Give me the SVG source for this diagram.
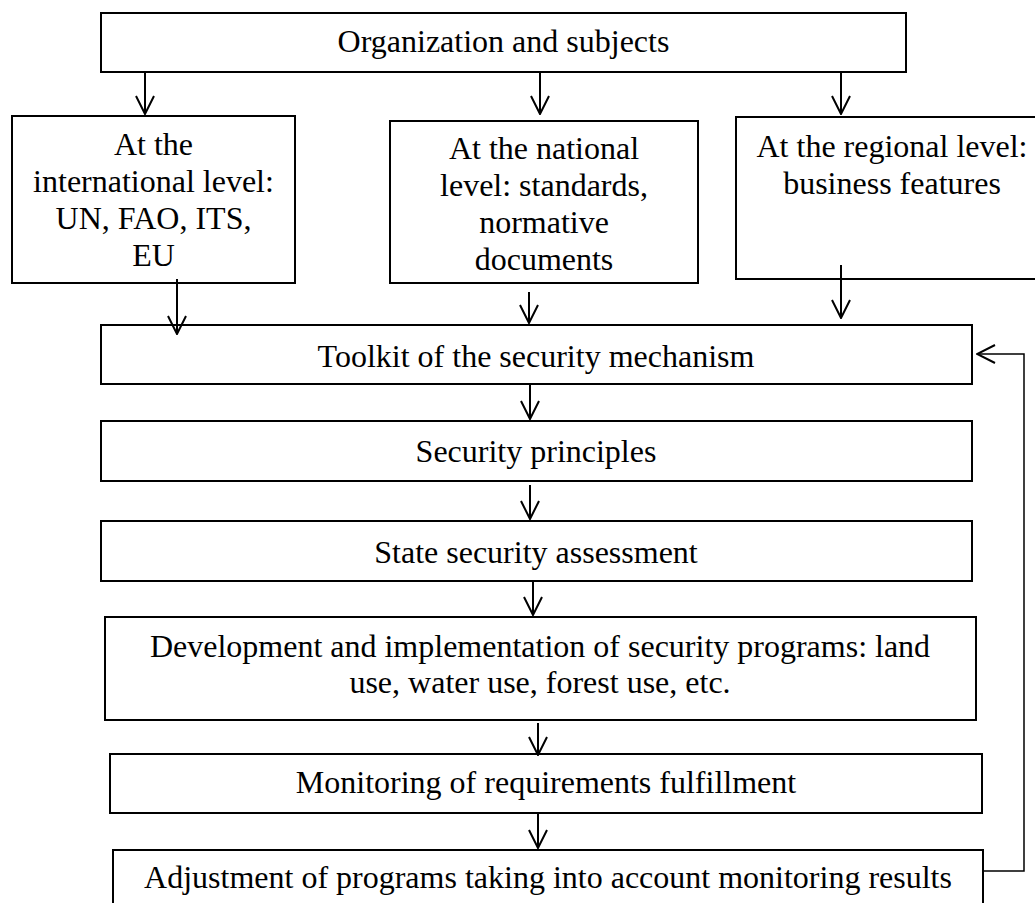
<svg xmlns="http://www.w3.org/2000/svg" width="1035" height="903" viewBox="0 0 1035 903">
<style>
.box{fill:#fff;stroke:#000;stroke-width:2}
.t{font-family:"Liberation Serif","Times New Roman",serif;font-size:32px;fill:#000;text-anchor:middle}
.c{fill:none;stroke:#000;stroke-width:2}
.fb{fill:none;stroke:#000;stroke-width:1.5}
</style>
<defs>
<marker id="arr" viewBox="0 0 20 22" refX="19" refY="11" markerWidth="20" markerHeight="22" markerUnits="userSpaceOnUse" orient="auto">
<path d="M1,2 L19,11 L1,20" fill="none" stroke="#000" stroke-width="2"/>
</marker>
</defs>
<rect width="1035" height="903" fill="#fff"/>
<g id="n-org"><rect class="box" x="101" y="13" width="805" height="59"/><text class="t" x="503.5" y="52">Organization and subjects</text></g>
<g id="n-intl"><rect class="box" x="12" y="116" width="283" height="167"/><text class="t" x="153.5" y="155">At the</text><text class="t" x="153.5" y="192">international level:</text><text class="t" x="153.5" y="229">UN, FAO, ITS,</text><text class="t" x="153.5" y="266">EU</text></g>
<g id="n-nat"><rect class="box" x="390" y="121" width="308" height="162"/><text class="t" x="544" y="159">At the national</text><text class="t" x="544" y="196">level: standards,</text><text class="t" x="544" y="233">normative</text><text class="t" x="544" y="270">documents</text></g>
<g id="n-reg"><rect class="box" x="736" y="117" width="310" height="162"/><text class="t" x="892" y="157">At the regional level:</text><text class="t" x="892" y="194">business features</text></g>
<g id="n-toolkit"><rect class="box" x="101" y="325" width="871" height="59"/><text class="t" x="536" y="367">Toolkit of the security mechanism</text></g>
<g id="n-principles"><rect class="box" x="101" y="421" width="871" height="60"/><text class="t" x="536" y="462">Security principles</text></g>
<g id="n-assess"><rect class="box" x="101" y="521" width="871" height="60"/><text class="t" x="536" y="563">State security assessment</text></g>
<g id="n-dev"><rect class="box" x="105" y="617" width="871" height="103"/><text class="t" x="540" y="657">Development and implementation of security programs: land</text><text class="t" x="540" y="693">use, water use, forest use, etc.</text></g>
<g id="n-monitor"><rect class="box" x="110" y="754" width="872" height="59"/><text class="t" x="546" y="793">Monitoring of requirements fulfillment</text></g>
<g id="n-adjust"><rect class="box" x="113" y="850" width="870" height="70"/><text class="t" x="548" y="888">Adjustment of programs taking into account monitoring results</text></g>
<g id="connectors">
<path class="c" d="M145,72 V114" marker-end="url(#arr)"/>
<path class="c" d="M540,72 V114" marker-end="url(#arr)"/>
<path class="c" d="M841,72 V114" marker-end="url(#arr)"/>
<path class="c" d="M177,279 V334" marker-end="url(#arr)"/>
<path class="c" d="M529,292 V323" marker-end="url(#arr)"/>
<path class="c" d="M841,265 V318" marker-end="url(#arr)"/>
<path class="c" d="M530,384 V419" marker-end="url(#arr)"/>
<path class="c" d="M530,485 V519" marker-end="url(#arr)"/>
<path class="c" d="M533,581 V615" marker-end="url(#arr)"/>
<path class="c" d="M538,723 V755" marker-end="url(#arr)"/>
<path class="c" d="M538,813 V848" marker-end="url(#arr)"/>
<path class="fb" d="M983,871 H1024 V354 H977" marker-end="url(#arr)"/>
</g>
</svg>
